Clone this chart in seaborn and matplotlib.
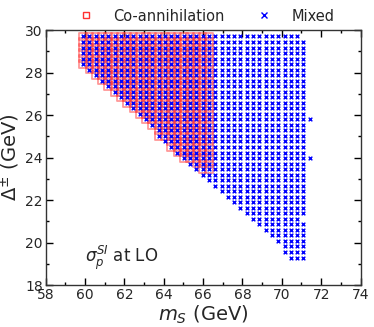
import numpy as np
import pandas as pd
import matplotlib
matplotlib.use("Agg")
import matplotlib.pyplot as plt
import seaborn as sns
from matplotlib.lines import Line2D
from matplotlib.ticker import MultipleLocator

# scan grid
ms_cols = [59.9, 60.22, 60.54, 60.86, 61.18, 61.5, 61.82, 62.14, 62.46, 62.78,
           63.1, 63.42, 63.74, 64.06, 64.38, 64.7, 65.02, 65.34, 65.66, 65.98,
           66.3, 66.62, 66.94, 67.26, 67.58, 67.9, 68.22, 68.54, 68.86, 69.18,
           69.5, 69.82, 70.14, 70.46, 70.78, 71.1, 71.42]
delta_rows = [19.3, 19.56, 19.82, 20.08, 20.34, 20.6, 20.86, 21.12, 21.38, 21.64,
              21.9, 22.16, 22.42, 22.68, 22.94, 23.2, 23.46, 23.72, 23.98, 24.24,
              24.5, 24.76, 25.02, 25.28, 25.54, 25.8, 26.06, 26.32, 26.58, 26.84,
              27.1, 27.36, 27.62, 27.88, 28.14, 28.4, 28.66, 28.92, 29.18, 29.44, 29.7]

# per column: lowest / highest row index of the allowed points
mixed_lo = [35, 34, 33, 32, 31, 30, 29, 28, 27, 26, 25, 24, 22, 21, 20, 19, 18, 17,
            16, 15, 14, 13, 12, 11, 10, 9, 8, 7, 6, 5, 4, 3, 1, 0, 0, 0]
mixed_hi = [40] * 35 + [39]
mixed_extra = [(36, 18), (36, 25)]   # lone points in the last column
mixed_holes = [(35, 7)]

coann_lo = [35, 34, 33, 32, 31, 30, 29, 28, 27, 26, 25, 24, 22, 22, 20, 19, 18, 18,
            17, 16, 16]
coann_hi = [40] * 21


def expand(lo, hi, extra=(), holes=()):
    pts = []
    for j, (a, b) in enumerate(zip(lo, hi)):
        for k in range(a, b + 1):
            if (j, k) not in holes:
                pts.append((ms_cols[j], delta_rows[k]))
    for j, k in extra:
        pts.append((ms_cols[j], delta_rows[k]))
    return pd.DataFrame(pts, columns=["ms", "delta"])


mixed_df = expand(mixed_lo, mixed_hi, mixed_extra, mixed_holes)
coann_df = expand(coann_lo, coann_hi)

sns.set_style("ticks")
plt.rcParams["font.family"] = ["DejaVu Sans"]
plt.rcParams["mathtext.fontset"] = "dejavusans"

red = "#ff3030"
fig = plt.figure(figsize=(3.74, 3.27), dpi=100)
ax = fig.add_axes([0.122, 0.128, 0.842, 0.780])

sns.scatterplot(data=coann_df, x="ms", y="delta", marker="s", s=30,
                color=red, linewidth=1.3, ax=ax, legend=False, zorder=2)
ax.collections[-1].set_facecolor("none")
ax.collections[-1].set_edgecolor(red)
ax.collections[-1].set_alpha(0.5)

sns.scatterplot(data=mixed_df, x="ms", y="delta", marker="x", s=7,
                color="blue", linewidth=1.0, ax=ax, legend=False, zorder=3)

ax.set_xlim(58, 74)
ax.set_ylim(18, 30)
ax.xaxis.set_major_locator(MultipleLocator(2))
ax.xaxis.set_minor_locator(MultipleLocator(1))
ax.yaxis.set_major_locator(MultipleLocator(2))
ax.yaxis.set_minor_locator(MultipleLocator(1))
ax.tick_params(which="both", direction="in", top=True, right=True,
               labelsize=10, pad=2, color="black")
ax.tick_params(which="major", length=5, width=1)
ax.tick_params(which="minor", length=2.5, width=1)
for sp in ax.spines.values():
    sp.set_linewidth(1.0)
    sp.set_color("#333333")

ax.set_xlabel(r"$m_S$ (GeV)", fontsize=14, labelpad=1)
ax.set_ylabel(r"$\Delta^{\pm}$ (GeV)", fontsize=14, labelpad=2)
ax.text(0.125, 0.106, r"$\sigma_p^{SI}$ at LO", transform=ax.transAxes,
        fontsize=12, ha="left", va="center")

handles = [
    Line2D([0], [0], marker="s", linestyle="none", markerfacecolor="none",
           markeredgecolor=red, markersize=5, markeredgewidth=1.0, label="Co-annihilation"),
    Line2D([0], [0], marker="x", linestyle="none", color="blue",
           markersize=4, markeredgewidth=1.0, label="Mixed"),
]
fig.legend(handles=handles, loc="center left", bbox_to_anchor=(0.191, 0.951), ncol=2,
           frameon=False, fontsize=10.5, handlelength=2.0, handletextpad=0.85,
           columnspacing=1.75, borderpad=0, borderaxespad=0)

fig.savefig("out.png", dpi=100)
